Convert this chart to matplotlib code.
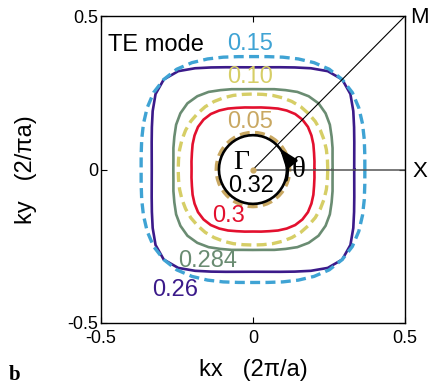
import matplotlib
matplotlib.use('Agg')
import matplotlib.pyplot as plt
import numpy as np

# Equifrequency contours (normalised frequency), 4-fold symmetric.
# Radius (in 2pi/a units) at these angles of the first octant.
OCTANT_DEG = [0, 7.5, 15, 22.5, 30, 37.5, 45]
R_026 = [0.333, 0.336, 0.345, 0.360, 0.381, 0.404, 0.415]
R_015 = [0.368, 0.371, 0.379, 0.390, 0.402, 0.412, 0.415]
R_0284 = [0.262, 0.264, 0.271, 0.280, 0.292, 0.301, 0.305]
R_010 = [0.246, 0.247, 0.250, 0.253, 0.256, 0.258, 0.258]
R_030 = [0.202, 0.204, 0.208, 0.215, 0.222, 0.228, 0.230]
R_005 = [0.121, 0.121, 0.121, 0.121, 0.121, 0.121, 0.121]
R_032 = [0.112, 0.112, 0.112, 0.112, 0.112, 0.112, 0.112]

CONTOURS = [  # (radii, colour, dashed)
    (R_026, '#3B1A8A', False),
    (R_015, '#3FA3D4', True),
    (R_0284, '#6A8C72', False),
    (R_010, '#D6CE66', True),
    (R_030, '#E3102E', False),
    (R_005, '#C9A862', True),
    (R_032, '#000000', False),
]

LABELS = [  # (text, x, y, colour)
    ('0.15', -0.01, 0.41, '#3FA3D4'),
    ('0.10', -0.01, 0.30, '#D6CE66'),
    ('0.05', -0.01, 0.155, '#C9A862'),
    ('0.32', -0.007, -0.054, '#000000'),
    ('0.3', -0.079, -0.152, '#E3102E'),
    ('0.284', -0.15, -0.299, '#6A8C72'),
    ('0.26', -0.257, -0.391, '#3B1A8A'),
]

SANS = ['Liberation Sans', 'DejaVu Sans']
SERIF = ['Liberation Serif', 'DejaVu Serif']
plt.rcParams['font.family'] = SANS


def closed_curve(radii):
    """Unfold first-octant radii into the full closed curve using the square symmetry."""
    th = np.radians(OCTANT_DEG)
    r = np.asarray(radii)
    # 0..45 then mirror to 45..90
    th_q = np.concatenate([th, np.pi / 2 - th[::-1][1:]])
    r_q = np.concatenate([r, r[::-1][1:]])
    xs, ys = [], []
    for k in range(4):
        xs.append(r_q[:-1] * np.cos(th_q[:-1] + k * np.pi / 2))
        ys.append(r_q[:-1] * np.sin(th_q[:-1] + k * np.pi / 2))
    x = np.concatenate(xs)
    y = np.concatenate(ys)
    return np.append(x, x[0]), np.append(y, y[0])


fig = plt.figure(figsize=(4.29, 3.90), dpi=100)
ax = fig.add_axes([0.2354, 0.1718, 0.7086, 0.787])

for radii, col, dashed in CONTOURS:
    x, y = closed_curve(radii)
    if dashed:
        ax.plot(x, y, color=col, lw=2.4, dashes=(3, 1.6), solid_capstyle='butt')
    else:
        ax.plot(x, y, color=col, lw=1.9)

# Gamma-M and Gamma-X directions
ax.plot([0, 0.5], [0, 0.5], color='black', lw=0.8)
ax.plot([0, 0.5], [0, 0], color='#555555', lw=1.1)
ax.plot([0], [0], 'o', color='#C9A862', ms=3.5)

# theta arrow along the inner circle
ax.annotate('', xy=(0.082, 0.076), xytext=(0.107, -0.043),
            arrowprops=dict(arrowstyle='-|>,head_length=1.1,head_width=0.4',
                            color='black', lw=2.2,
                            connectionstyle='arc3,rad=0.28'))

for txt, x, y, col in LABELS:
    ax.text(x, y, txt, color=col, fontsize=17, ha='center', va='center')

ax.text(-0.478, 0.407, 'TE mode', fontsize=17, ha='left', va='center')
ax.text(-0.038, 0.022, 'Γ', fontsize=20, family=SERIF, ha='center', va='center')
ax.text(0.15, 0.0, 'θ', fontsize=21, family=SERIF, ha='center', va='center')
ax.text(0.549, 0.495, 'M', fontsize=16, ha='center', va='center')
ax.text(0.549, -0.007, 'X', fontsize=16, ha='center', va='center')

ax.set_xlim(-0.5, 0.5)
ax.set_ylim(-0.5, 0.5)
ax.set_xticks([-0.5, 0, 0.5])
ax.set_yticks([-0.5, 0, 0.5])
ax.set_xticklabels(['-0.5', '0', '0.5'])
ax.set_yticklabels(['-0.5', '0', '0.5'])
ax.tick_params(direction='in', length=4, width=0.8, top=True, right=True,
               labelsize=13)
ax.tick_params(axis='x', pad=5)
ax.tick_params(axis='y', pad=2)
for s in ax.spines.values():
    s.set_linewidth(1.0)

ax.set_xlabel('kx   (2π/a)', fontsize=17, labelpad=9)
ax.set_ylabel('ky   (2/πa)', fontsize=17, labelpad=22)

fig.text(0.033, 0.038, 'b', fontsize=15, fontweight='bold', family=SERIF,
         ha='center', va='center')

fig.savefig('out.png', dpi=100)
